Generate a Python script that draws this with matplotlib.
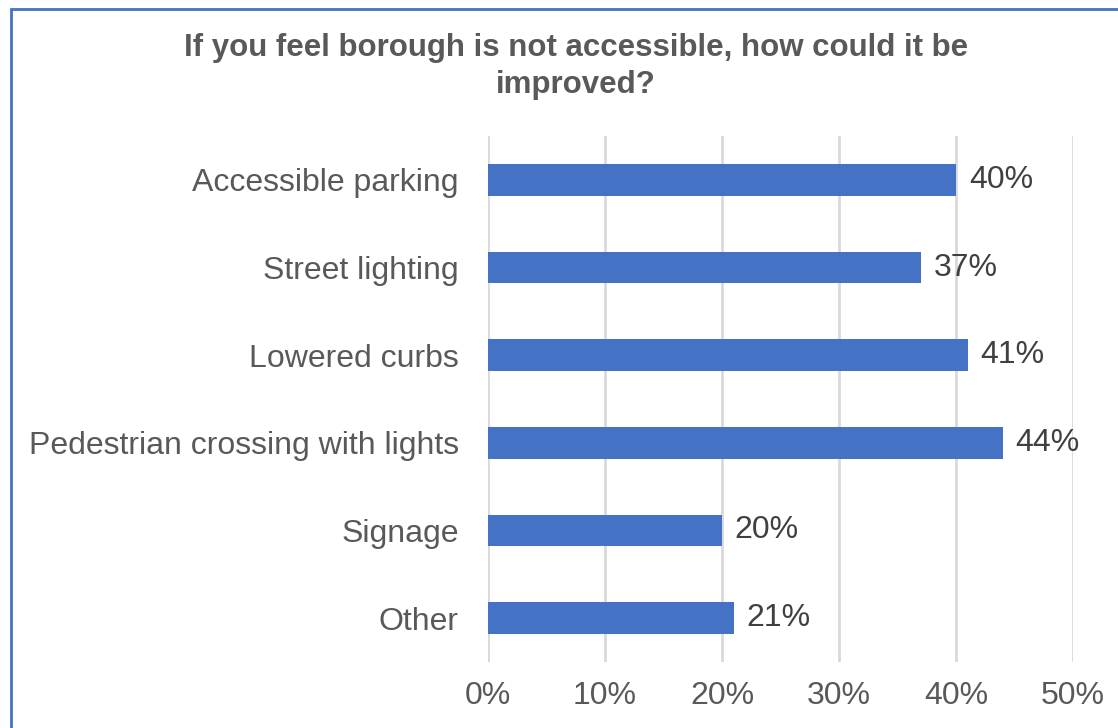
import matplotlib.pyplot as plt
from matplotlib.patches import Rectangle
from matplotlib.ticker import FuncFormatter

categories = ["Accessible parking", "Street lighting", "Lowered curbs",
              "Pedestrian crossing with lights", "Signage", "Other"]
values = [40, 37, 41, 44, 20, 21]
x_ticks = [0, 10, 20, 30, 40, 50]

bar_color = "#4472C4"
text_color = "#595959"
fs = 23

plt.rcParams["font.family"] = ["Liberation Sans", "DejaVu Sans"]

W, H = 1118, 728
fig = plt.figure(figsize=(W / 100, H / 100), dpi=100)
ax = fig.add_axes([488 / W, 1 - 662 / H, (1073 - 488) / W, (662 - 136) / H])

# bars from top to bottom in the list order
ypos = list(range(len(categories)))
ax.barh(ypos, values, height=0.36, color=bar_color, zorder=3)
ax.set_ylim(len(categories) - 0.5, -0.5)
ax.set_yticks(ypos)
ax.set_yticklabels(categories, fontsize=fs, color=text_color)

for y, v in zip(ypos, values):
    ax.text(v + 1.1, y, f"{v}%", va="center", ha="left",
            fontsize=fs, color="#404040", zorder=4)

ax.set_xlim(0, 50)
ax.set_xticks(x_ticks)
ax.xaxis.set_major_formatter(FuncFormatter(lambda v, _: f"{v:.0f}%"))
ax.tick_params(axis="x", labelsize=fs, labelcolor=text_color, length=0, pad=14)
ax.tick_params(axis="y", length=0, pad=21)
ax.grid(axis="x", color="#D9D9D9", linewidth=2, zorder=0)
for s in ax.spines.values():
    s.set_visible(False)

fig.text(576 / W, 1 - 48 / H, "If you feel borough is not accessible, how could it be",
         ha="center", va="center", fontsize=22.5, fontweight="bold", color=text_color)
fig.text(576 / W, 1 - 85 / H, "improved?",
         ha="center", va="center", fontsize=22.5, fontweight="bold", color=text_color)

# outer chart frame, cut off on the right and bottom
fig.patches.append(Rectangle((11 / W, -0.1), 1.2, 1 - 9 / H + 0.1,
                             transform=fig.transFigure, fill=False,
                             edgecolor="#4472C4", linewidth=2))

fig.savefig("out.png", dpi=100)
